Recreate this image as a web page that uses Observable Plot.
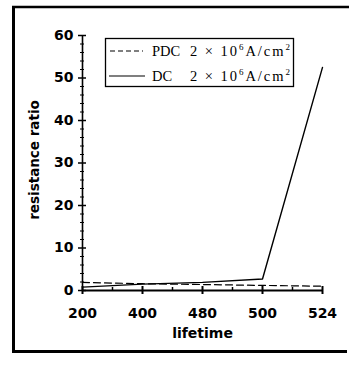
<!DOCTYPE html>
<html><head><meta charset="utf-8">
<script src="https://cdn.jsdelivr.net/npm/d3@7"></script>
<script src="https://cdn.jsdelivr.net/npm/@observablehq/plot@0.6"></script>
<style>
html,body{margin:0;padding:0;background:#fff;}
#wrap{position:relative;width:349px;height:366px;overflow:hidden;}
</style></head>
<body><div id="wrap"></div>
<script>
const categories = ["200", "400", "480", "500", "524"];
const dcValues  = [0.8, 1.5, 1.9, 2.7, 52.5];
const pdcValues = [1.9, 1.6, 1.4, 1.2, 1.0];
const yTicks = [0, 10, 20, 30, 40, 50, 60];
const yMinorTicks = [2,4,6,8,12,14,16,18,22,24,26,28,32,34,36,38,42,44,46,48,52,54,56,58];
const xLabel = "lifetime";
const yLabel = "resistance ratio";
const seriesNames = ["PDC", "DC"];
const unitText = "2 × 10";
const unitExp = "6";
const unitRest = "A/cm";
const unitExp2 = "2";

const dcData = categories.map((c, i) => ({cat: c, v: dcValues[i]}));
const pdcData = categories.map((c, i) => ({cat: c, v: pdcValues[i]}));

const chart = Plot.plot({
  width: 349, height: 366,
  marginLeft: 82, marginRight: 27, marginTop: 35, marginBottom: 76,
  style: {background: "transparent", fontFamily: "DejaVu Sans", fontWeight: "bold", fontSize: "14px", color: "#000"},
  x: {type: "point", domain: categories, padding: 0},
  y: {domain: [0, 60]},
  marks: [
    Plot.axisY({ticks: yTicks, tickSize: 4, tickPadding: 5, label: null, strokeWidth: 1.5}),
    Plot.axisY({ticks: yTicks, tickSize: 4, dx: 4, text: null, label: null, strokeWidth: 1.5}),
    Plot.axisY({ticks: yMinorTicks, tickSize: 2, text: null, label: null}),
    Plot.axisY({ticks: yMinorTicks, tickSize: 2, dx: 2, text: null, label: null}),
    Plot.axisX({tickSize: 4, tickPadding: 14, label: null, strokeWidth: 2}),
    Plot.axisX({tickSize: 4, dy: -4, text: null, label: null, strokeWidth: 2}),
    Plot.axisX({ticks: categories.slice(0, 4), tickSize: 3, dy: -3, dx: 30, text: null, label: null, strokeWidth: 1.5}),
    Plot.ruleX([categories[0]], {strokeWidth: 1.6}),
    Plot.ruleY([0], {strokeWidth: 2}),
    Plot.line(pdcData, {x: "cat", y: "v", stroke: "#000", strokeWidth: 1.2, strokeDasharray: "7,4"}),
    Plot.line(dcData, {x: "cat", y: "v", stroke: "#000", strokeWidth: 1.4}),
    Plot.text([yLabel], {frameAnchor: "left", dx: -48, dy: -3, rotate: -90, textAnchor: "middle", lineAnchor: "middle", fontSize: 13.5, fontWeight: "bold"}),
    Plot.text([xLabel], {frameAnchor: "bottom", dy: 43, textAnchor: "middle", lineAnchor: "middle", fontSize: 14, fontWeight: "bold"})
  ]
});
document.getElementById("wrap").appendChild(chart);

const svg = d3.select(chart);
// outer frame (left, top, bottom)
const fr = svg.append("g").attr("stroke", "#000").attr("fill", "none");
fr.append("line").attr("x1", 13.5).attr("x2", 13.5).attr("y1", 6).attr("y2", 353).attr("stroke-width", 3);
fr.append("line").attr("x1", 12).attr("x2", 349).attr("y1", 7).attr("y2", 7).attr("stroke-width", 2.5);
fr.append("line").attr("x1", 12).attr("x2", 347).attr("y1", 351.5).attr("y2", 351.5).attr("stroke-width", 3);

// legend
const lg = svg.append("g").attr("text-anchor", "start").attr("font-weight", "normal");
lg.append("rect").attr("x", 105.5).attr("y", 38.5).attr("width", 188).attr("height", 48)
  .attr("fill", "#fff").attr("stroke", "#000").attr("stroke-width", 1.3);
const rows = [
  {name: seriesNames[0], y: 51, dash: "5,3", x1: 110, x2: 143},
  {name: seriesNames[1], y: 76, dash: null, x1: 109, x2: 145}
];
rows.forEach(r => {
  const ln = lg.append("line").attr("x1", r.x1).attr("x2", r.x2).attr("y1", r.y).attr("y2", r.y)
    .attr("stroke", "#000").attr("stroke-width", 1.2);
  if (r.dash) ln.attr("stroke-dasharray", r.dash);
  lg.append("text").attr("x", 152).attr("y", r.y + 5)
    .attr("font-family", "Liberation Serif").attr("font-size", 14.5).attr("fill", "#000")
    .attr("text-anchor", "start").attr("font-weight", "normal")
    .text(r.name);
  const t = lg.append("text").attr("x", 190).attr("y", r.y + 5)
    .attr("font-family", "Liberation Serif").attr("font-size", 14.5).attr("fill", "#000")
    .attr("text-anchor", "start").attr("font-weight", "normal")
    .attr("textLength", 100).attr("lengthAdjust", "spacing");
  t.append("tspan").text(unitText);
  t.append("tspan").attr("dy", -6).attr("font-size", 9).text(unitExp);
  t.append("tspan").attr("dy", 6).text(unitRest);
  t.append("tspan").attr("dy", -6).attr("font-size", 9).text(unitExp2);
});
</script>
</body></html>
